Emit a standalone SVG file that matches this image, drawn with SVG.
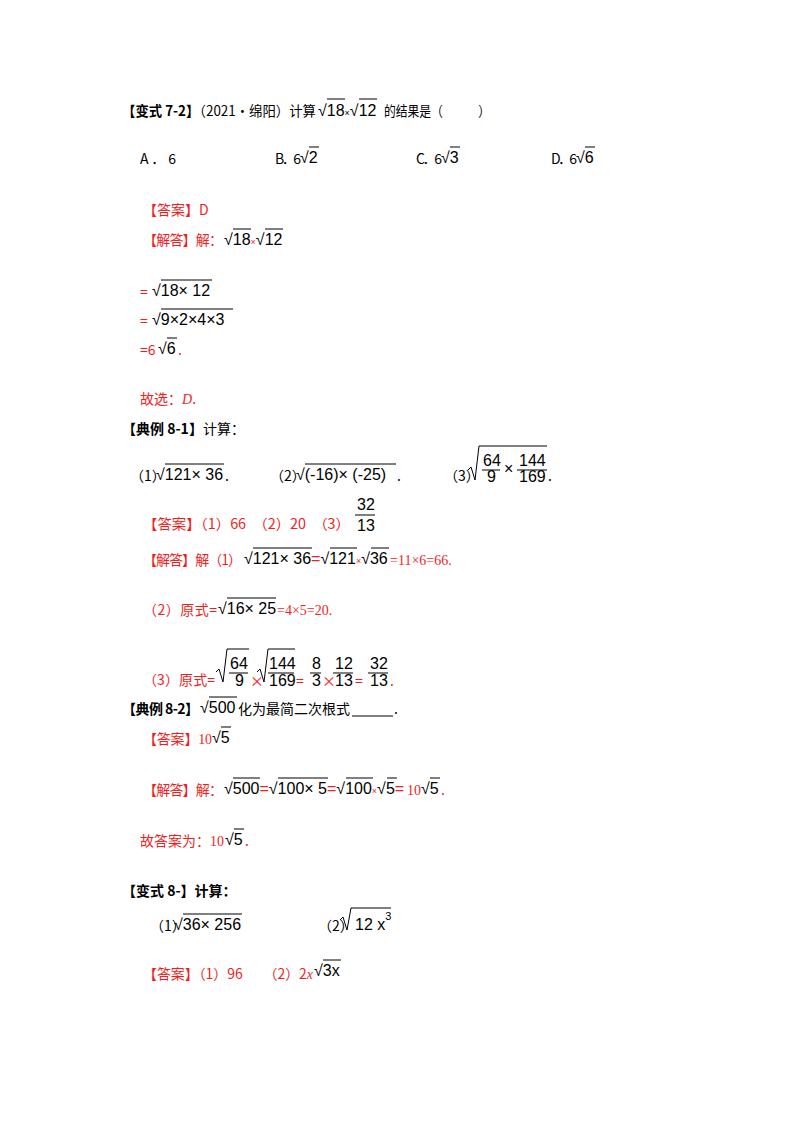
<svg xmlns="http://www.w3.org/2000/svg" width="800" height="1132" viewBox="0 0 800 1132">
<style>
text{font-family:"Noto Sans CJK SC","Liberation Serif",serif;font-size:14px;fill:#000}
.r{fill:#f01e1e}
.b{font-weight:bold}
.t{font-family:"Liberation Serif","Noto Sans CJK SC",serif}
.s{font-family:"Liberation Sans",sans-serif;font-size:16px}
line{stroke:#000;stroke-width:1}
</style>
<rect width="800" height="1132" fill="#fff"/>
<g id="q72">
<text x="122" y="116" textLength="194" lengthAdjust="spacingAndGlyphs"><tspan class="b">【变式 7-2】</tspan>（2021•绵阳）计算</text>
<text x="318" y="116" class="s">√18<tspan font-size="9">×</tspan>√12</text>
<line x1="327" y1="99" x2="345" y2="99"/><line x1="359" y1="99" x2="377" y2="99"/>
<text x="384" y="116" textLength="106" lengthAdjust="spacingAndGlyphs">的结果是（　　　）</text>
<text x="140" y="164" textLength="36">A．6</text>
<text x="275" y="164" textLength="26">B．6</text><text x="300" y="163" class="s">√2</text><line x1="309" y1="147" x2="319" y2="147"/>
<text x="416" y="164" textLength="26">C．6</text><text x="441" y="163" class="s">√3</text><line x1="450" y1="147" x2="460" y2="147"/>
<text x="551" y="164" textLength="26">D．6</text><text x="576" y="163" class="s">√6</text><line x1="585" y1="147" x2="595" y2="147"/>
</g>
<g id="a72">
<text x="143" y="215" class="r">【答案】D</text>
<text x="143" y="245" class="r" textLength="80">【解答】解：</text>
<text x="224" y="245" class="s">√18<tspan font-size="9" fill="#f01e1e">×</tspan>√12</text>
<line x1="233" y1="229" x2="251" y2="229"/><line x1="265" y1="229" x2="283" y2="229"/>
<text x="140" y="297" class="r">=</text><text x="152" y="296" class="s">√18× 12</text><line x1="161" y1="280" x2="212" y2="280"/>
<text x="140" y="326" class="r">=</text><text x="152" y="325" class="s">√9×2×4×3</text><line x1="161" y1="309" x2="233" y2="309"/>
<text x="140" y="355" class="r">=6</text><text x="158" y="354" class="s">√6</text><line x1="167" y1="338" x2="177" y2="338"/><text x="178" y="355" class="r">.</text>
<text x="140" y="404" class="r">故选：<tspan font-style="italic" class="t">D</tspan>.</text>
</g>
<g id="q81">
<text x="122" y="434" class="b">【典例 8-1】<tspan font-weight="normal">计算：</tspan></text>
<text x="130" y="481">（1）</text><text x="156" y="480" class="s">√121× 36</text><line x1="165" y1="464" x2="224" y2="464"/><text x="225" y="481">.</text>
<text x="270" y="481">（2）</text><text x="296" y="480" class="s">√(-16)× (-25)</text><line x1="305" y1="464" x2="396" y2="464"/><text x="397" y="481">.</text>
<text x="444" y="481">（3）</text>
<path d="M468,470 l3,-3 l4,13 l4,-34 h68" fill="none" stroke="#000"/>
<text x="483" y="466" class="s">64</text><line x1="482" y1="470" x2="500" y2="470"/><text x="487" y="482" class="s">9</text>
<text x="504" y="474" class="s">×</text>
<text x="519" y="466" class="s">144</text><line x1="517" y1="470" x2="547" y2="470"/><text x="519" y="482" class="s">169</text><text x="548" y="481">.</text>
</g>
<g id="a81">
<text x="143" y="529" class="r" textLength="207" lengthAdjust="spacingAndGlyphs">【答案】（1）66　（2）20　（3）</text>
<text x="357" y="510" class="s">32</text><line x1="355" y1="515" x2="375" y2="515"/><text x="357" y="531" class="s">13</text>
<text x="143" y="565" class="r" textLength="99">【解答】解（1）</text>
<text x="244" y="564" class="s">√121× 36<tspan fill="#f01e1e">=</tspan>√121<tspan font-size="9" fill="#f01e1e">×</tspan>√36</text>
<line x1="253" y1="548" x2="312" y2="548"/><line x1="330" y1="548" x2="357" y2="548"/><line x1="371" y1="548" x2="389" y2="548"/>
<text x="390" y="565" class="r t">=11×6=66.</text>
<text x="143" y="615" class="r" textLength="74">（2）原式=</text><text x="218" y="614" class="s">√16× 25</text><line x1="227" y1="598" x2="276" y2="598"/><text x="277" y="615" class="r t">=4×5=20.</text>
<text x="143" y="685" class="r" textLength="72">（3）原式=</text>
<path d="M216,672 l3,-3 l4,13 l4,-33 h22" fill="none" stroke="#000"/>
<text x="230" y="669" class="s">64</text><line x1="229" y1="673" x2="248" y2="673"/><text x="235" y="686" class="s">9</text>
<text x="250" y="686" font-size="9" class="r">×</text>
<path d="M257,672 l3,-3 l4,13 l4,-33 h27" fill="none" stroke="#000"/>
<text x="269" y="669" class="s">144</text><line x1="268" y1="673" x2="294" y2="673"/><text x="269" y="686" class="s">169</text>
<text x="296" y="686" class="r">=</text>
<text x="312" y="669" class="s">8</text><line x1="310" y1="673" x2="321" y2="673"/><text x="312" y="686" class="s">3</text>
<text x="322" y="686" font-size="9" class="r">×</text>
<text x="335" y="669" class="s">12</text><line x1="333" y1="673" x2="353" y2="673"/><text x="335" y="686" class="s">13</text>
<text x="355" y="686" class="r">=</text>
<text x="370" y="669" class="s">32</text><line x1="368" y1="673" x2="388" y2="673"/><text x="370" y="686" class="s">13</text>
<text x="390" y="686" class="r">.</text>
</g>
<g id="q82">
<text x="122" y="714" class="b" textLength="77">【典例 8-2】</text>
<text x="200" y="713" class="s">√500</text><line x1="209" y1="697" x2="237" y2="697"/>
<text x="238" y="714" textLength="112">化为最简二次根式</text><line x1="352" y1="716" x2="393" y2="716"/><text x="394" y="714">.</text>
</g>
<g id="a82">
<text x="143" y="744" class="r" textLength="69">【答案】<tspan class="t">10</tspan></text><text x="212" y="743" class="s">√5</text><line x1="221" y1="727" x2="231" y2="727"/>
<text x="143" y="795" class="r" textLength="80">【解答】解：</text>
<text x="224" y="794" class="s">√500<tspan fill="#f01e1e">=</tspan>√100× 5<tspan fill="#f01e1e">=</tspan>√100<tspan font-size="9" fill="#f01e1e">×</tspan>√5<tspan fill="#f01e1e">=</tspan></text>
<line x1="233" y1="778" x2="260" y2="778"/><line x1="278" y1="778" x2="328" y2="778"/><line x1="346" y1="778" x2="373" y2="778"/><line x1="387" y1="778" x2="397" y2="778"/>
<text x="407" y="795" class="r t">10</text><text x="421" y="794" class="s">√5</text><line x1="430" y1="778" x2="440" y2="778"/><text x="441" y="795" class="r">.</text>
<text x="140" y="846" class="r" textLength="84">故答案为：<tspan class="t">10</tspan></text><text x="225" y="845" class="s">√5</text><line x1="234" y1="829" x2="244" y2="829"/><text x="245" y="846" class="r">.</text>
</g>
<g id="q8">
<text x="122" y="896" class="b">【变式 8-】计算：</text>
<text x="150" y="931">（1）</text><text x="174" y="930" class="s">√36× 256</text><line x1="183" y1="914" x2="242" y2="914"/>
<text x="318" y="931">（2）</text>
<path d="M340,920 l3,-3 l4,13 l4,-22 h40" fill="none" stroke="#000"/>
<text x="355" y="930" class="s">12 x<tspan font-size="11" dy="-10">3</tspan></text>
</g>
<g id="a8">
<text x="143" y="979" class="r" textLength="170" lengthAdjust="spacingAndGlyphs">【答案】（1）96　　（2）2<tspan font-style="italic" class="t">x</tspan></text>
<text x="314" y="976" class="s">√3x</text><line x1="323" y1="960" x2="341" y2="960"/>
</g>
</svg>
